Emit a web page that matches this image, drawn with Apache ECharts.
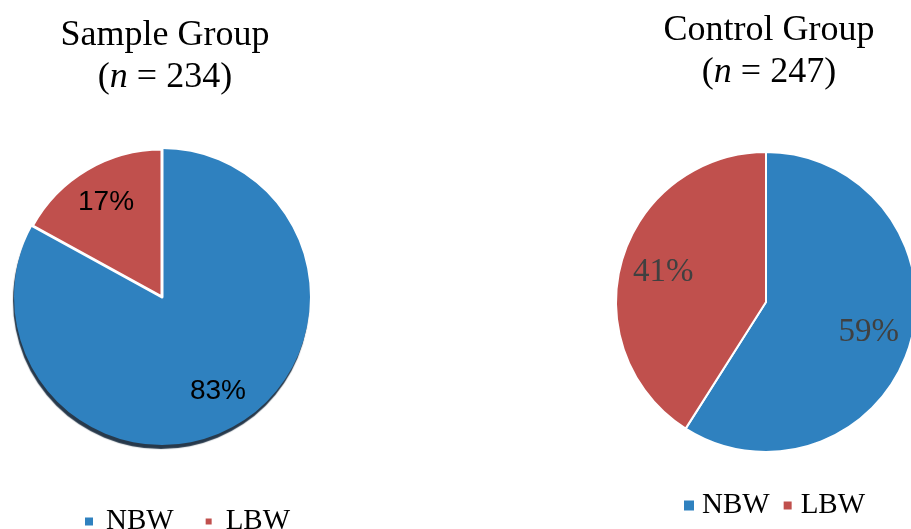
<!DOCTYPE html>
<html>
<head>
<meta charset="utf-8">
<script src="https://cdn.jsdelivr.net/npm/echarts@6/dist/echarts.min.js"></script>
<style>
  html, body { margin: 0; padding: 0; background: #fff; }
  #chart { width: 911px; height: 529px; }
</style>
</head>
<body>
<div id="chart"></div>
<script>
// data
const categories = ['NBW', 'LBW']
const sampleValues = [83, 17]
const controlValues = [59, 41]
const sampleN = 234
const controlN = 247

const BLUE = '#2f81bf'
const RED = '#c0504d'
const SERIF = '"Liberation Serif", "Times New Roman", serif'
const SANS = '"Liberation Sans", Arial, sans-serif'

const chart = echarts.init(document.getElementById('chart'))

// left pie: shadow only under the blue slice, no stroke on it (stroke shadow showed inside)
const toData = (vals, withShadow) => categories.map((name, i) => {
  const style = { color: i === 0 ? BLUE : RED, borderColor: '#fff', borderWidth: 2 }
  if (withShadow && i === 0) {
    Object.assign(style, {
      borderWidth: 0,
      shadowColor: 'rgba(15,35,55,0.9)', shadowOffsetY: 4, shadowOffsetX: -1, shadowBlur: 1
    })
  }
  if (withShadow && i === 1) style.borderWidth = 3
  return { name, value: vals[i], itemStyle: style }
})

// invisible ring used only to place the labels further out than 'inside' does
const labelRing = (center, radius, vals, labelStyle) => ({
  type: 'pie',
  center,
  radius,
  silent: true,
  startAngle: 90,
  data: categories.map((name, i) => ({ name, value: vals[i] })),
  itemStyle: { color: 'rgba(0,0,0,0)', borderWidth: 0 },
  label: Object.assign({ show: true, position: 'inside', formatter: '{c}%' }, labelStyle),
  labelLine: { show: false },
  emphasis: { disabled: true },
  tooltip: { show: false }
})

const titleRich = {
  a: { fontFamily: SERIF, fontSize: 36, fontWeight: 'normal', color: '#000', lineHeight: 42 },
  i: { fontFamily: SERIF, fontSize: 36, fontWeight: 'normal', color: '#000', fontStyle: 'italic', lineHeight: 42 }
}

const legendData = categories.map((name, i) => ({
  name,
  itemStyle: { color: i === 0 ? BLUE : RED }
}))

const option = {
  animation: false,
  title: [
    {
      text: '{a|Sample Group}\n{a|(}{i|n}{a| = ' + sampleN + ')}',
      left: 160, top: 10, textAlign: 'center',
      textStyle: { fontWeight: 'normal', rich: titleRich }
    },
    {
      text: '{a|Control Group}\n{a|(}{i|n}{a| = ' + controlN + ')}',
      left: 764, top: 5, textAlign: 'center',
      textStyle: { fontWeight: 'normal', rich: titleRich }
    }
  ],
  legend: [
    {
      data: legendData,
      left: 80, top: 502,
      icon: 'rect', itemWidth: 8, itemHeight: 8, itemGap: 30,
      textStyle: { fontFamily: SERIF, fontSize: 29, color: '#000', padding: [0, 0, 0, 8] },
      selectedMode: false
    },
    {
      data: legendData,
      left: 679, top: 486,
      icon: 'rect', itemWidth: 10, itemHeight: 10, itemGap: 12,
      textStyle: { fontFamily: SERIF, fontSize: 29, color: '#000', padding: [0, 0, 0, 3] },
      selectedMode: false
    }
  ],
  series: [
    {
      type: 'pie',
      center: [162, 297],
      radius: [0, 148],
      startAngle: 90,
      data: toData(sampleValues, true),
      label: { show: false },
      labelLine: { show: false },
      emphasis: { disabled: true }
    },
    {
      type: 'pie',
      center: [766, 302],
      radius: [0, 150],
      startAngle: 90,
      data: toData(controlValues, false),
      label: { show: false },
      labelLine: { show: false },
      emphasis: { disabled: true }
    },
    labelRing([162, 297], [66, 148], sampleValues,
      { fontFamily: SANS, fontSize: 28, color: '#000' }),
    labelRing([766, 302], [58, 150], controlValues,
      { fontFamily: SERIF, fontSize: 33, color: '#404040' })
  ]
}

chart.setOption(option)
</script>
</body>
</html>
